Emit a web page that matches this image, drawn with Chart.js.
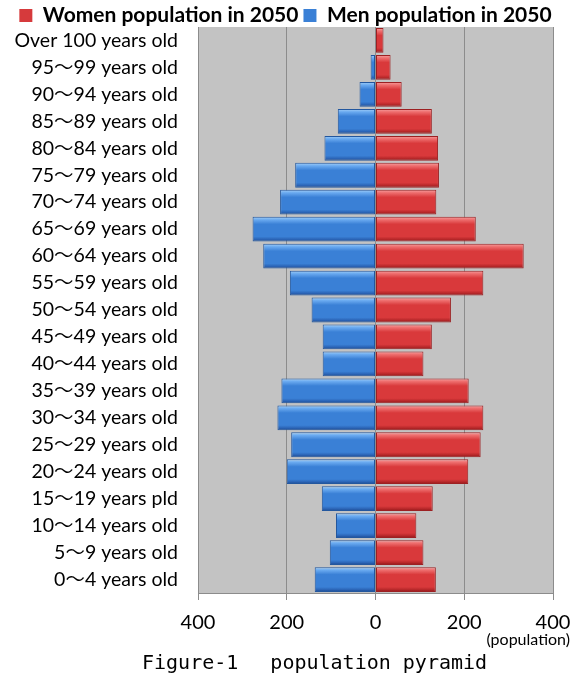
<!DOCTYPE html>
<html>
<head>
<meta charset="utf-8">
<script src="https://cdn.jsdelivr.net/npm/chart.js@4.4.1/dist/chart.umd.min.js"></script>
<style>
  html, body { margin: 0; padding: 0; background: #ffffff; }
  #wrap { position: relative; width: 571px; height: 679px; }
</style>
</head>
<body>
<div id="wrap"><canvas id="pyramid"></canvas></div>
<script>
// Age groups, oldest at the top
const ageGroups = [
  'Over 100 years old',
  '95〜99 years old',
  '90〜94 years old',
  '85〜89 years old',
  '80〜84 years old',
  '75〜79 years old',
  '70〜74 years old',
  '65〜69 years old',
  '60〜64 years old',
  '55〜59 years old',
  '50〜54 years old',
  '45〜49 years old',
  '40〜44 years old',
  '35〜39 years old',
  '30〜34 years old',
  '25〜29 years old',
  '20〜24 years old',
  '15〜19 years pld',
  '10〜14 years old',
  '5〜9 years old',
  '0〜4 years old'
];

// Projected population per age group, 2050
const womenPopulation = [18, 34, 59, 127, 141, 143, 137, 226, 334, 243, 170, 127, 108, 210, 243, 237, 209, 129, 92, 108, 136];
const menPopulation   = [1, 11, 36, 85, 115, 181, 215, 277, 253, 193, 144, 119, 119, 212, 221, 190, 200, 121, 89, 103, 137];

// Axis ticks (population, both directions from zero)
const xTickValues = [-400, -200, 0, 200, 400];

const labelFont = "Lato, 'Noto Sans CJK JP', sans-serif";
const BAR_PCT = 0.92;
const LEGEND_HEIGHT = 27;

// Vertical bevel gradient for each bar, built from the bar's own row on the y scale
function bevel(palette) {
  return (ctx) => {
    const chart = ctx.chart;
    const yScale = chart.scales && chart.scales.y;
    if (!chart.chartArea || !yScale || ctx.dataIndex === undefined) return palette.base;
    const center = yScale.getPixelForValue(ctx.dataIndex);
    const half = (yScale.height / ageGroups.length) * BAR_PCT / 2;
    const g = chart.ctx.createLinearGradient(0, center - half, 0, center + half);
    g.addColorStop(0, palette.top);
    g.addColorStop(0.12, palette.light);
    g.addColorStop(0.3, palette.base);
    g.addColorStop(0.8, palette.base);
    g.addColorStop(0.92, palette.dark);
    g.addColorStop(1, palette.bottom);
    return g;
  };
}

const redPalette  = { top: '#f6a3a3', light: '#ee6e6e', base: '#d9393b', dark: '#b32628', bottom: '#8a1517' };
const bluePalette = { top: '#a8d2f7', light: '#6aaaf0', base: '#3a80d6', dark: '#2a62b3', bottom: '#1a4487' };

// Keep the legend strip compact above the plot
const compactLegend = {
  id: 'compactLegend',
  beforeLayout(chart) {
    const legend = chart.legend;
    if (legend && !legend._compact) {
      const fit = legend.fit;
      legend.fit = function () {
        fit.call(this);
        this.height = LEGEND_HEIGHT;
      };
      legend._compact = true;
    }
  }
};

// Grey plot background
const plotBackground = {
  id: 'plotBackground',
  beforeDraw(chart) {
    const { ctx, chartArea: a } = chart;
    ctx.save();
    ctx.fillStyle = '#c3c3c3';
    ctx.fillRect(a.left, a.top, a.right - a.left, a.bottom - a.top);
    ctx.restore();
  }
};

// Unit note under the axis and the figure caption
const captions = {
  id: 'captions',
  afterDraw(chart) {
    const { ctx } = chart;
    ctx.save();
    ctx.fillStyle = '#000';
    ctx.textBaseline = 'middle';
    ctx.textAlign = 'right';
    ctx.font = "16px " + labelFont;
    ctx.fillText('(population)', 570, 640);
    ctx.textAlign = 'left';
    ctx.font = "20px 'DejaVu Sans Mono', monospace";
    ctx.fillText('Figure-1\u3000 population pyramid', 142, 664);
    ctx.restore();
  }
};

new Chart(document.getElementById('pyramid'), {
  type: 'bar',
  data: {
    labels: ageGroups,
    datasets: [
      {
        label: 'Women population in 2050',
        data: womenPopulation,
        backgroundColor: bevel(redPalette),
        borderColor: '#9c2022',
        borderWidth: 1,
        borderSkipped: false,
        legendColor: '#d63a3c'
      },
      {
        label: 'Men population in 2050',
        data: menPopulation.map(v => -v),
        backgroundColor: bevel(bluePalette),
        borderColor: '#23579e',
        borderWidth: 1,
        borderSkipped: false,
        legendColor: '#3a80d6'
      }
    ]
  },
  options: {
    indexAxis: 'y',
    responsive: true,
    maintainAspectRatio: false,
    animation: false,
    barPercentage: BAR_PCT,
    categoryPercentage: 1,
    layout: { padding: 0 },
    scales: {
      x: {
        stacked: true,
        min: -400,
        max: 400,
        afterBuildTicks(scale) { scale.ticks = xTickValues.map(v => ({ value: v })); },
        afterFit(scale) {
          scale.height = 86;
          scale.paddingLeft = 0;
          scale.paddingRight = 18;
        },
        ticks: {
          color: '#000',
          font: { family: labelFont, size: 20 },
          padding: 11,
          maxRotation: 0,
          callback: (v) => Math.abs(v)
        },
        grid: {
          color: '#8c8c8c',
          lineWidth: 1,
          drawTicks: true,
          tickLength: 7,
          tickColor: '#8c8c8c'
        },
        border: { color: '#8c8c8c' }
      },
      y: {
        stacked: true,
        afterFit(scale) { scale.width = 198; },
        ticks: {
          color: '#000',
          font: { family: labelFont, size: 19.5 },
          padding: 12,
          autoSkip: false
        },
        grid: { display: false },
        border: { color: '#8c8c8c' }
      }
    },
    plugins: {
      tooltip: { enabled: false },
      legend: {
        position: 'top',
        labels: {
          color: '#000',
          font: { family: labelFont, size: 21, weight: 'bold', lineHeight: 0.9 },
          boxWidth: 13,
          boxHeight: 13,
          padding: 5,
          generateLabels(chart) {
            return chart.data.datasets.map((ds, i) => ({
              text: ds.label,
              fillStyle: ds.legendColor,
              strokeStyle: ds.legendColor,
              lineWidth: 0,
              datasetIndex: i,
              hidden: false
            }));
          }
        }
      }
    }
  },
  plugins: [compactLegend, plotBackground, captions]
});
</script>
</body>
</html>
